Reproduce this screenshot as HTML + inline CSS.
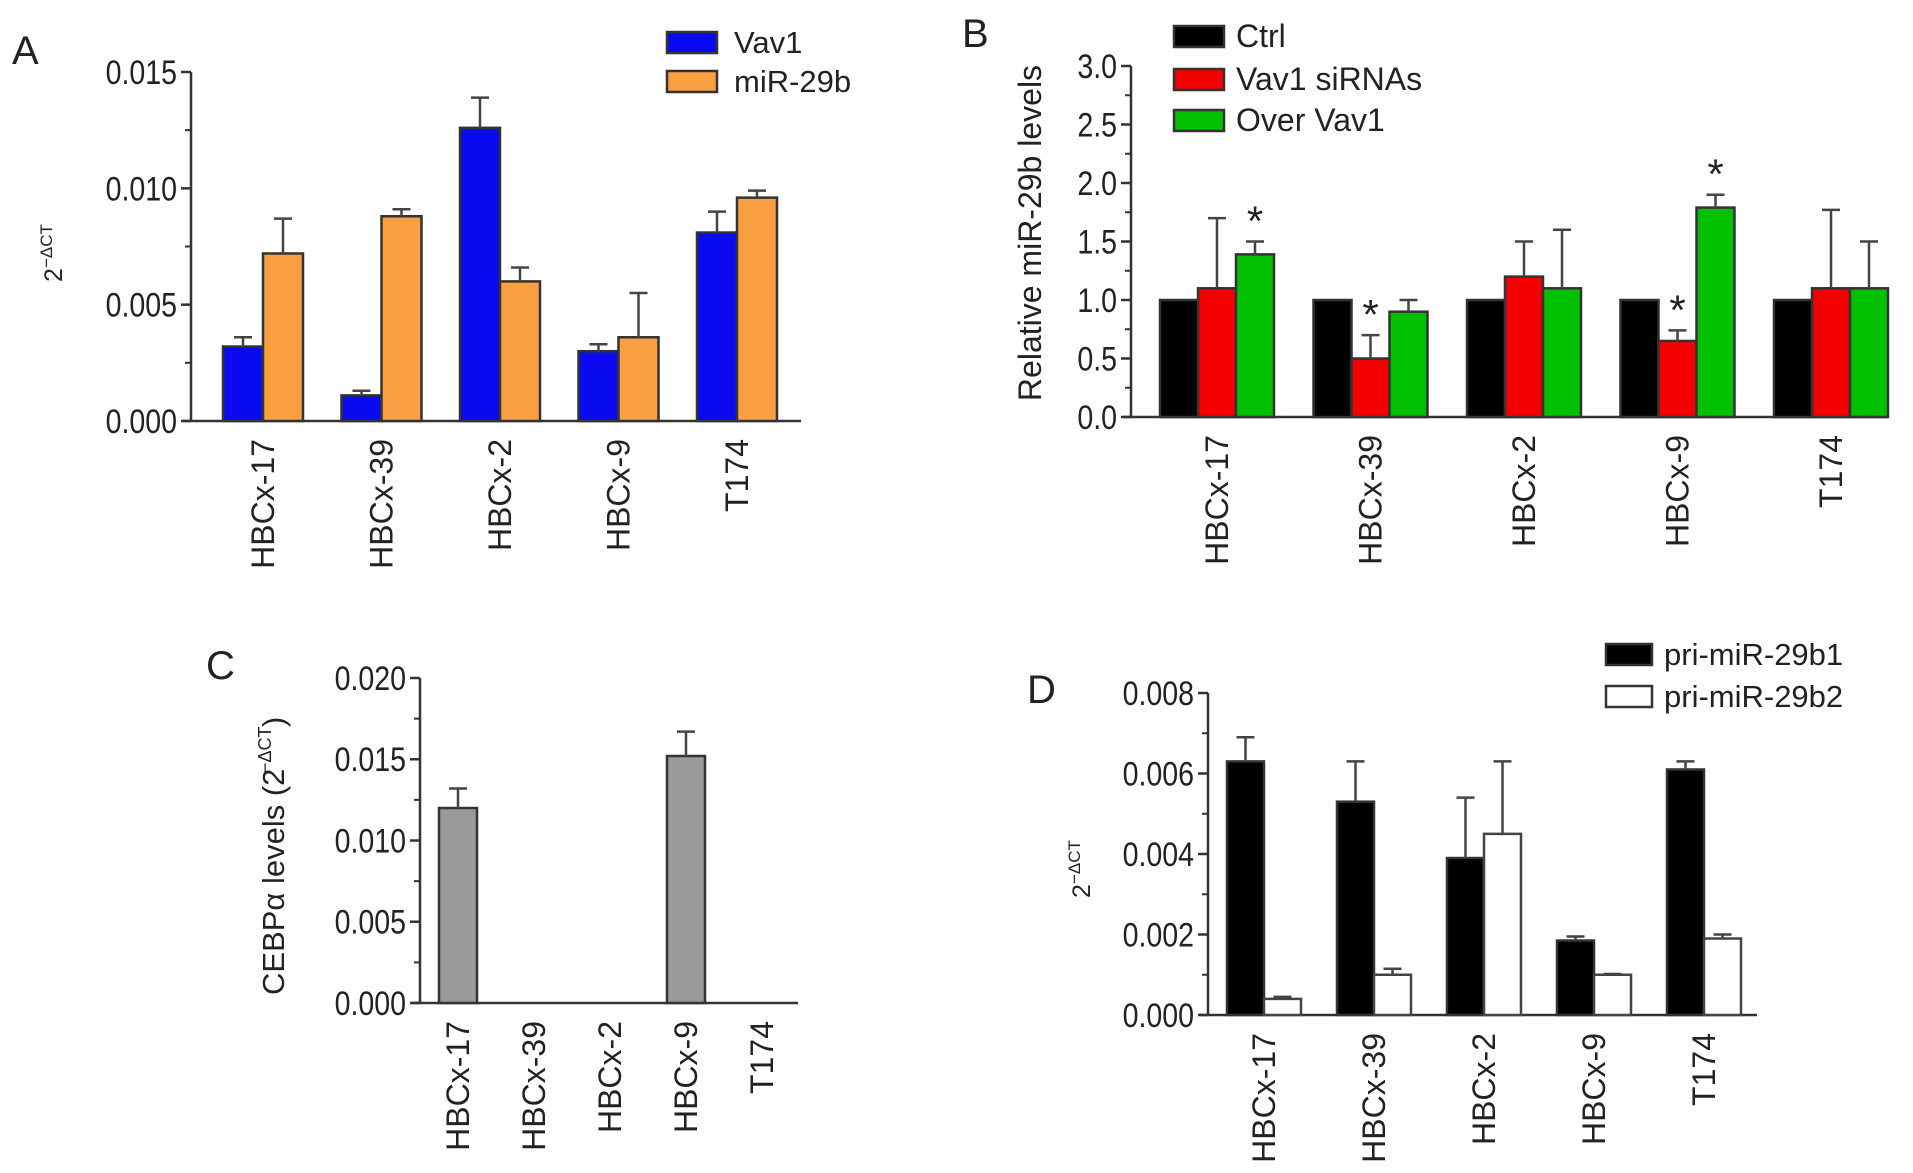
<!DOCTYPE html>
<html><head><meta charset="utf-8">
<style>
html,body{margin:0;padding:0;background:#fff;}
svg{display:block;font-family:"Liberation Sans",sans-serif;}
text{fill:#222;}
</style></head>
<body>
<svg id="fig" width="1913" height="1173" viewBox="0 0 1913 1173"></svg>
<script>
const categories = ["HBCx-17","HBCx-39","HBCx-2","HBCx-9","T174"];
// Panel A
const aVav1 = [0.0032,0.0011,0.0126,0.0030,0.0081];
const aVav1Err = [0.0004,0.0002,0.0013,0.0003,0.0009];
const aMir = [0.0072,0.0088,0.0060,0.0036,0.0096];
const aMirErr = [0.0015,0.0003,0.0006,0.0019,0.0003];
const aTicks = [0,0.005,0.010,0.015];
const aTickLabels = ["0.000","0.005","0.010","0.015"];
// Panel B
const bCtrl = [1,1,1,1,1];
const bCtrlErr = [0,0,0,0,0];
const bSi = [1.1,0.5,1.2,0.65,1.1];
const bSiErr = [0.6,0.2,0.3,0.09,0.67];
const bOver = [1.39,0.9,1.1,1.79,1.1];
const bOverErr = [0.11,0.1,0.5,0.11,0.4];
const bSiStar = [false,true,false,true,false];
const bOverStar = [true,false,false,true,false];
const bTicks = [0,0.5,1,1.5,2,2.5,3];
const bTickLabels = ["0.0","0.5","1.0","1.5","2.0","2.5","3.0"];
// Panel C
const cVals = [0.012,0,0,0.0152,0];
const cErr = [0.0012,0,0,0.0015,0];
const cTicks = [0,0.005,0.010,0.015,0.020];
const cTickLabels = ["0.000","0.005","0.010","0.015","0.020"];
// Panel D
const dB1 = [0.0063,0.0053,0.0039,0.00185,0.0061];
const dB1Err = [0.0006,0.001,0.0015,0.0001,0.0002];
const dB2 = [0.0004,0.001,0.0045,0.001,0.0019];
const dB2Err = [0.00005,0.00015,0.0018,0.00002,0.0001];
const dTicks = [0,0.002,0.004,0.006,0.008];
const dTickLabels = ["0.000","0.002","0.004","0.006","0.008"];

const NS="http://www.w3.org/2000/svg";
const svg=document.getElementById('fig');
function el(tag,attrs,parent){const e=document.createElementNS(NS,tag);for(const k in attrs)e.setAttribute(k,attrs[k]);(parent||svg).appendChild(e);return e;}
function txt(s,attrs,parent){const t=el('text',attrs,parent);t.textContent=s;return t;}

function panel(cfg){
  const g=el('g',{});
  
  
  const y=v=>cfg.y0-(v-cfg.min)/(cfg.max-cfg.min)*(cfg.y0-cfg.y1);
  const ya=el('line',{x1:cfg.ax,y1:cfg.y1,x2:cfg.ax,y2:cfg.y0,stroke:'#333','stroke-width':2.5},g);
  
  const xa=el('line',{x1:cfg.ax-8,y1:cfg.y0,x2:cfg.xend,y2:cfg.y0,stroke:'#333','stroke-width':2.5},g);
  
  const tx=cfg.ax-14;
  cfg.ticks.forEach((t,i)=>{
    el('line',{x1:cfg.ax-10,y1:y(t),x2:cfg.ax,y2:y(t),stroke:'#333','stroke-width':2.5},g);
    const tl=txt(cfg.tickLabels[i],{x:tx,y:y(t)+12,'font-size':34,'text-anchor':'end',transform:`translate(${tx},0) scale(0.84,1) translate(${-tx},0)`},g);
    
    if(i<cfg.ticks.length-1){const m=(t+cfg.ticks[i+1])/2;el('line',{x1:cfg.ax-6,y1:y(m),x2:cfg.ax,y2:y(m),stroke:'#333','stroke-width':2},g);}
  });
  const ns=cfg.series.length;
  categories.forEach((c,ci)=>{
    const gx=cfg.gx0+ci*cfg.gs;
    cfg.series.forEach((s,si)=>{
      const x=gx-ns*cfg.bw/2+si*cfg.bw;
      const v=s.vals[ci];
      if(v>0){
        const r=el('rect',{x:x,y:y(v),width:cfg.bw,height:cfg.y0-y(v),fill:s.color,stroke:s.stroke||'#333','stroke-width':2.5},g);
        
        
        const e=s.err[ci];
        if(e>0){
          const cx=x+cfg.bw/2;
          const eb=el('path',{d:`M${cx},${y(v)} V${y(v+e)} M${cx-9},${y(v+e)} H${cx+9}`,stroke:'#444','stroke-width':2.5,fill:'none'},g);
          
        }
        if(s.star&&s.star[ci]){
          const st=txt('*',{x:x+cfg.bw/2,y:y(v+s.err[ci])-6,'font-size':42,'text-anchor':'middle'},g);
          
        }
      }
    });
    const lx=gx+11, ly=cfg.y0+18;
    const cl=txt(c,{x:lx,y:ly,'font-size':cfg.catFont||32,'text-anchor':'end',transform:`rotate(-90 ${lx} ${ly})`},g);
    
  });
  return g;
}
function legend(items,x,ys,h,w,tx,fs){
  items.forEach((it,i)=>{
    const r=el('rect',{x:x,y:ys[i],width:w,height:h,fill:it.color,stroke:'#333','stroke-width':2.5});
    
    const t=txt(it.label,{x:tx,y:ys[i]+h,'font-size':fs||31});
    
  });
}

// Panel A
panel({name:'panel-a',ax:191,y0:421,y1:72,xend:801,min:0,max:0.015,ticks:aTicks,tickLabels:aTickLabels,gx0:263,gs:118.5,bw:40,
  series:[{key:'vav1',vals:aVav1,err:aVav1Err,color:'#0a0af0'},{key:'mir29b',vals:aMir,err:aMirErr,color:'#f9a042'}]});
legend([{key:'vav1',label:'Vav1',color:'#0a0af0'},{key:'mir29b',label:'miR-29b',color:'#f9a042'}],667,[32,71],21,50,734,31);
let t=txt('A',{x:12,y:64,'font-size':40});
t=txt('2',{x:0,y:0,'font-size':25,transform:'translate(62,282) rotate(-90)'});
t=txt('−ΔCT',{x:14,y:-10,'font-size':17,transform:'translate(62,282) rotate(-90)'});

// Panel B
panel({name:'panel-b',ax:1131,y0:417,y1:66,xend:1888,min:0,max:3,ticks:bTicks,tickLabels:bTickLabels,gx0:1217,gs:153.5,bw:38,
  series:[{key:'ctrl',vals:bCtrl,err:bCtrlErr,color:'#000'},{key:'sirna',vals:bSi,err:bSiErr,color:'#f50000',star:bSiStar},{key:'over',vals:bOver,err:bOverErr,color:'#00c000',star:bOverStar}]});
legend([{key:'ctrl',label:'Ctrl',color:'#000'},{key:'sirna',label:'Vav1 siRNAs',color:'#f50000'},{key:'over',label:'Over Vav1',color:'#00c000'}],1174,[26,69,110],21,50,1236,32);
t=txt('B',{x:962,y:47,'font-size':40});
t=txt('Relative miR-29b levels',{x:0,y:0,'font-size':32,'text-anchor':'middle',transform:'translate(1041,233) rotate(-90)'});

// Panel C
panel({name:'panel-c',ax:420,y0:1003,y1:678,xend:798,min:0,max:0.02,ticks:cTicks,tickLabels:cTickLabels,gx0:458,gs:76,bw:38,catFont:32,
  series:[{key:'cebpa',vals:cVals,err:cErr,color:'#9a9a9a'}]});
t=txt('C',{x:206,y:679,'font-size':40});
t=txt('CEBPα levels (2',{x:0,y:0,'font-size':31,transform:'translate(284,995) rotate(-90)'});
t=txt('−ΔCT',{x:222,y:-13,'font-size':18,transform:'translate(284,995) rotate(-90)'});
t=txt(')',{x:268,y:0,'font-size':31,transform:'translate(284,995) rotate(-90)'});

// Panel D
panel({name:'panel-d',ax:1208,y0:1015,y1:693,xend:1757,min:0,max:0.008,ticks:dTicks,tickLabels:dTickLabels,gx0:1264,gs:110,bw:37,
  series:[{key:'b1',vals:dB1,err:dB1Err,color:'#000'},{key:'b2',vals:dB2,err:dB2Err,color:'#fff',stroke:'#444'}]});
legend([{key:'b1',label:'pri-miR-29b1',color:'#000'},{key:'b2',label:'pri-miR-29b2',color:'#fff'}],1606,[644,686],21,46,1664,31);
t=txt('D',{x:1027,y:703,'font-size':40});
t=txt('2',{x:0,y:0,'font-size':25,transform:'translate(1090,898) rotate(-90)'});
t=txt('−ΔCT',{x:14,y:-10,'font-size':17,transform:'translate(1090,898) rotate(-90)'});
</script>
</body></html>
